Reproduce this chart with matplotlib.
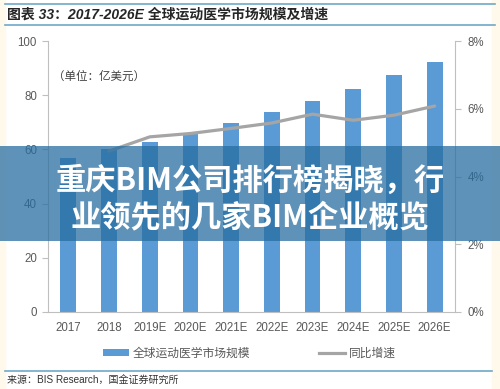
import matplotlib
matplotlib.use("Agg")
import matplotlib.pyplot as plt
from matplotlib.patches import Rectangle, Patch
from matplotlib.lines import Line2D

plt.rcParams['font.family'] = ['Noto Sans CJK SC', 'DejaVu Sans']

years = ["2017", "2018", "2019E", "2020E", "2021E", "2022E", "2023E", "2024E", "2025E", "2026E"]
market_size = [57.0, 60.0, 62.8, 66.2, 69.6, 73.7, 78.0, 82.4, 87.3, 92.4]  # 亿美元
growth = [None, 4.75, 5.17, 5.27, 5.42, 5.58, 5.84, 5.66, 5.81, 6.08]  # %

left_ticks = [0, 20, 40, 60, 80, 100]
right_ticks = [0, 2, 4, 6, 8]

BAR = "#5B9BD5"
LINE = "#A5A5A5"
SPINE = "#BFBFBF"
TXT = "#595959"
RULE = "#6FA8C8"
LAT = ["Liberation Sans", "Noto Sans CJK SC"]

W, H = 500, 389
fig = plt.figure(figsize=(W / 100, H / 100), dpi=100, facecolor="white")

# cream edges of the scanned page
fig.patches.append(Rectangle((0, 0), 5 / W, 1, transform=fig.transFigure, color="#FFF9EC", zorder=0))
fig.patches.append(Rectangle((492 / W, 0), 8 / W, 1, transform=fig.transFigure, color="#FFF9EC", zorder=0))

ax = fig.add_axes([48 / W, 1 - 312 / H, (455 - 48) / W, (312 - 41) / H])
x = list(range(len(years)))
ax.bar(x, market_size, width=0.39, color=BAR, zorder=2)
ax.set_xlim(-0.5, len(years) - 0.5)
ax.set_ylim(0, 100)
ax.set_yticks(left_ticks)
ax.set_xticks(x)
ax.set_xticklabels(years, family=LAT, fontsize=8.3, color=TXT)
ax.set_yticklabels([str(v) for v in left_ticks], family=LAT, fontsize=8.3, color=TXT)
ax.tick_params(axis="x", length=0, pad=7)
ax.tick_params(axis="y", length=4, color=SPINE, pad=4)
for s in ["top", "right"]:
    ax.spines[s].set_visible(False)
for s in ["left", "bottom"]:
    ax.spines[s].set_color(SPINE)
ax.text(0.012, 0.87, "（单位：亿美元）", transform=ax.transAxes, fontsize=8.3, color="#404040",
        va="center", ha="left")

ax2 = ax.twinx()
gx = [i for i, g in zip(x, growth) if g is not None]
gy = [g for g in growth if g is not None]
ax2.plot(gx, gy, color=LINE, lw=2.3, solid_capstyle="round", zorder=3)
ax2.set_ylim(0, 8)
ax2.set_yticks(right_ticks)
ax2.set_yticklabels([f"{v}%" for v in right_ticks], family=LAT, fontsize=8.3, color=TXT)
ax2.tick_params(axis="y", length=4, color=SPINE, pad=5)
for s in ["top", "left", "bottom"]:
    ax2.spines[s].set_visible(False)
ax2.spines["right"].set_color(SPINE)

handles = [Patch(facecolor=BAR, edgecolor="none"), Line2D([0], [0], color=LINE, lw=2.3)]
fig.legend(handles, ["全球运动医学市场规模", "同比增速"], loc="center left",
           bbox_to_anchor=(103 / W, 1 - 353 / H), ncol=2, frameon=False,
           fontsize=8.5, labelcolor=TXT, handlelength=2.2, handleheight=0.5,
           handletextpad=0.35, columnspacing=5.8, borderpad=0, borderaxespad=0)

# header and footer rules
fig.add_artist(Line2D([5 / W, 495 / W], [1 - 4 / H, 1 - 4 / H], color=RULE, lw=1.2))
fig.add_artist(Line2D([5 / W, 495 / W], [1 - 25 / H, 1 - 25 / H], color=RULE, lw=1.2))
fig.add_artist(Line2D([5 / W, 492 / W], [1 - 371 / H, 1 - 371 / H], color=RULE, lw=1.2))
fig.text(7 / W, 1 - 15 / H, "图表 33：2017-2026E 全球运动医学市场规模及增速", family=LAT,
         fontsize=10, fontweight="bold", style="italic", color="#262626", va="center", ha="left")
fig.text(7 / W, 1 - 381 / H, "来源：BIS Research，国金证券研究所", family=LAT,
         fontsize=7.2, color="#333333", va="center", ha="left")

# overlay banner
fig.patches.append(Rectangle((0, 1 - 241 / H), 1, 95 / H, transform=fig.transFigure,
                             facecolor=(40 / 255, 110 / 255, 160 / 255, 0.75), edgecolor="none", zorder=10))
fig.text(0.5, 1 - 181 / H, "重庆BIM公司排行榜揭晓，行", fontsize=21.8, fontweight="bold",
         color="white", ha="center", va="center", zorder=11)
fig.text(0.5, 1 - 217 / H, "业领先的几家BIM企业概览", fontsize=21.8, fontweight="bold",
         color="white", ha="center", va="center", zorder=11)

fig.savefig("out.png", dpi=100, facecolor=fig.get_facecolor())
